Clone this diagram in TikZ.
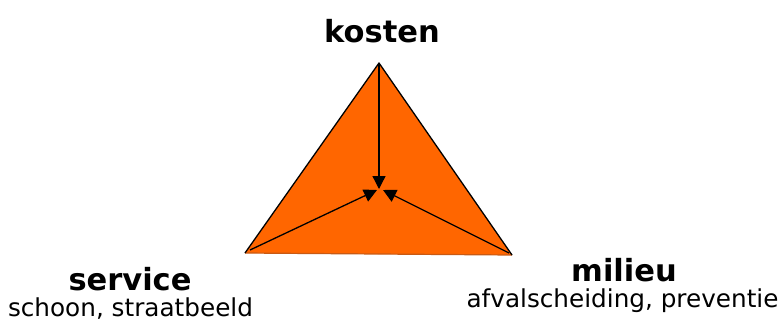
\documentclass[tikz,border=0pt]{standalone}
\usepackage{fontspec}
\setmainfont{DejaVu Sans}
\usetikzlibrary{arrows.meta}
\definecolor{tri}{HTML}{FF6600}
\definecolor{triedge}{HTML}{C85A14}
\tikzset{
  title/.style={anchor=base, font=\fontsize{30.5}{32}\selectfont\bfseries, inner sep=0pt},
  sub/.style={anchor=base, font=\fontsize{24.7}{27}\selectfont, inner sep=0pt},
  conn/.style={line width=1.3pt, -{Triangle[length=13pt,width=13pt]}},
}
\begin{document}
\begin{tikzpicture}[x=1pt,y=-1pt]
\useasboundingbox (0,0) rectangle (781,322);
\coordinate (top) at (379,63);
\coordinate (bl) at (245,253);
\coordinate (br) at (512,255);
\coordinate (ct) at (379,189);
\coordinate (cl) at (377,190);
\coordinate (cr) at (383,190);
\coordinate (sl) at (250,250);
\coordinate (sr) at (509,253);
\fill[tri] (top) -- (bl) -- (br) -- cycle;
\draw[triedge, line width=1.2pt] (bl) -- (br);
\draw[black, line width=1.3pt, line join=round] (bl) -- (top) -- (br);
\draw[conn] (top) -- (ct);
\draw[conn] (sl) -- (cl);
\draw[conn] (sr) -- (cr);
\node[title] (kosten) at (382,42) {kosten};
\node[title] (service) at (130,290.5) {service};
\node[sub] (servsub) at (130.5,316) {schoon, straatbeeld};
\node[title] (milieu) at (624,281.5) {milieu};
\node[sub] (milsub) at (622.5,307) {afvalscheiding, preventie};
\end{tikzpicture}
\end{document}
